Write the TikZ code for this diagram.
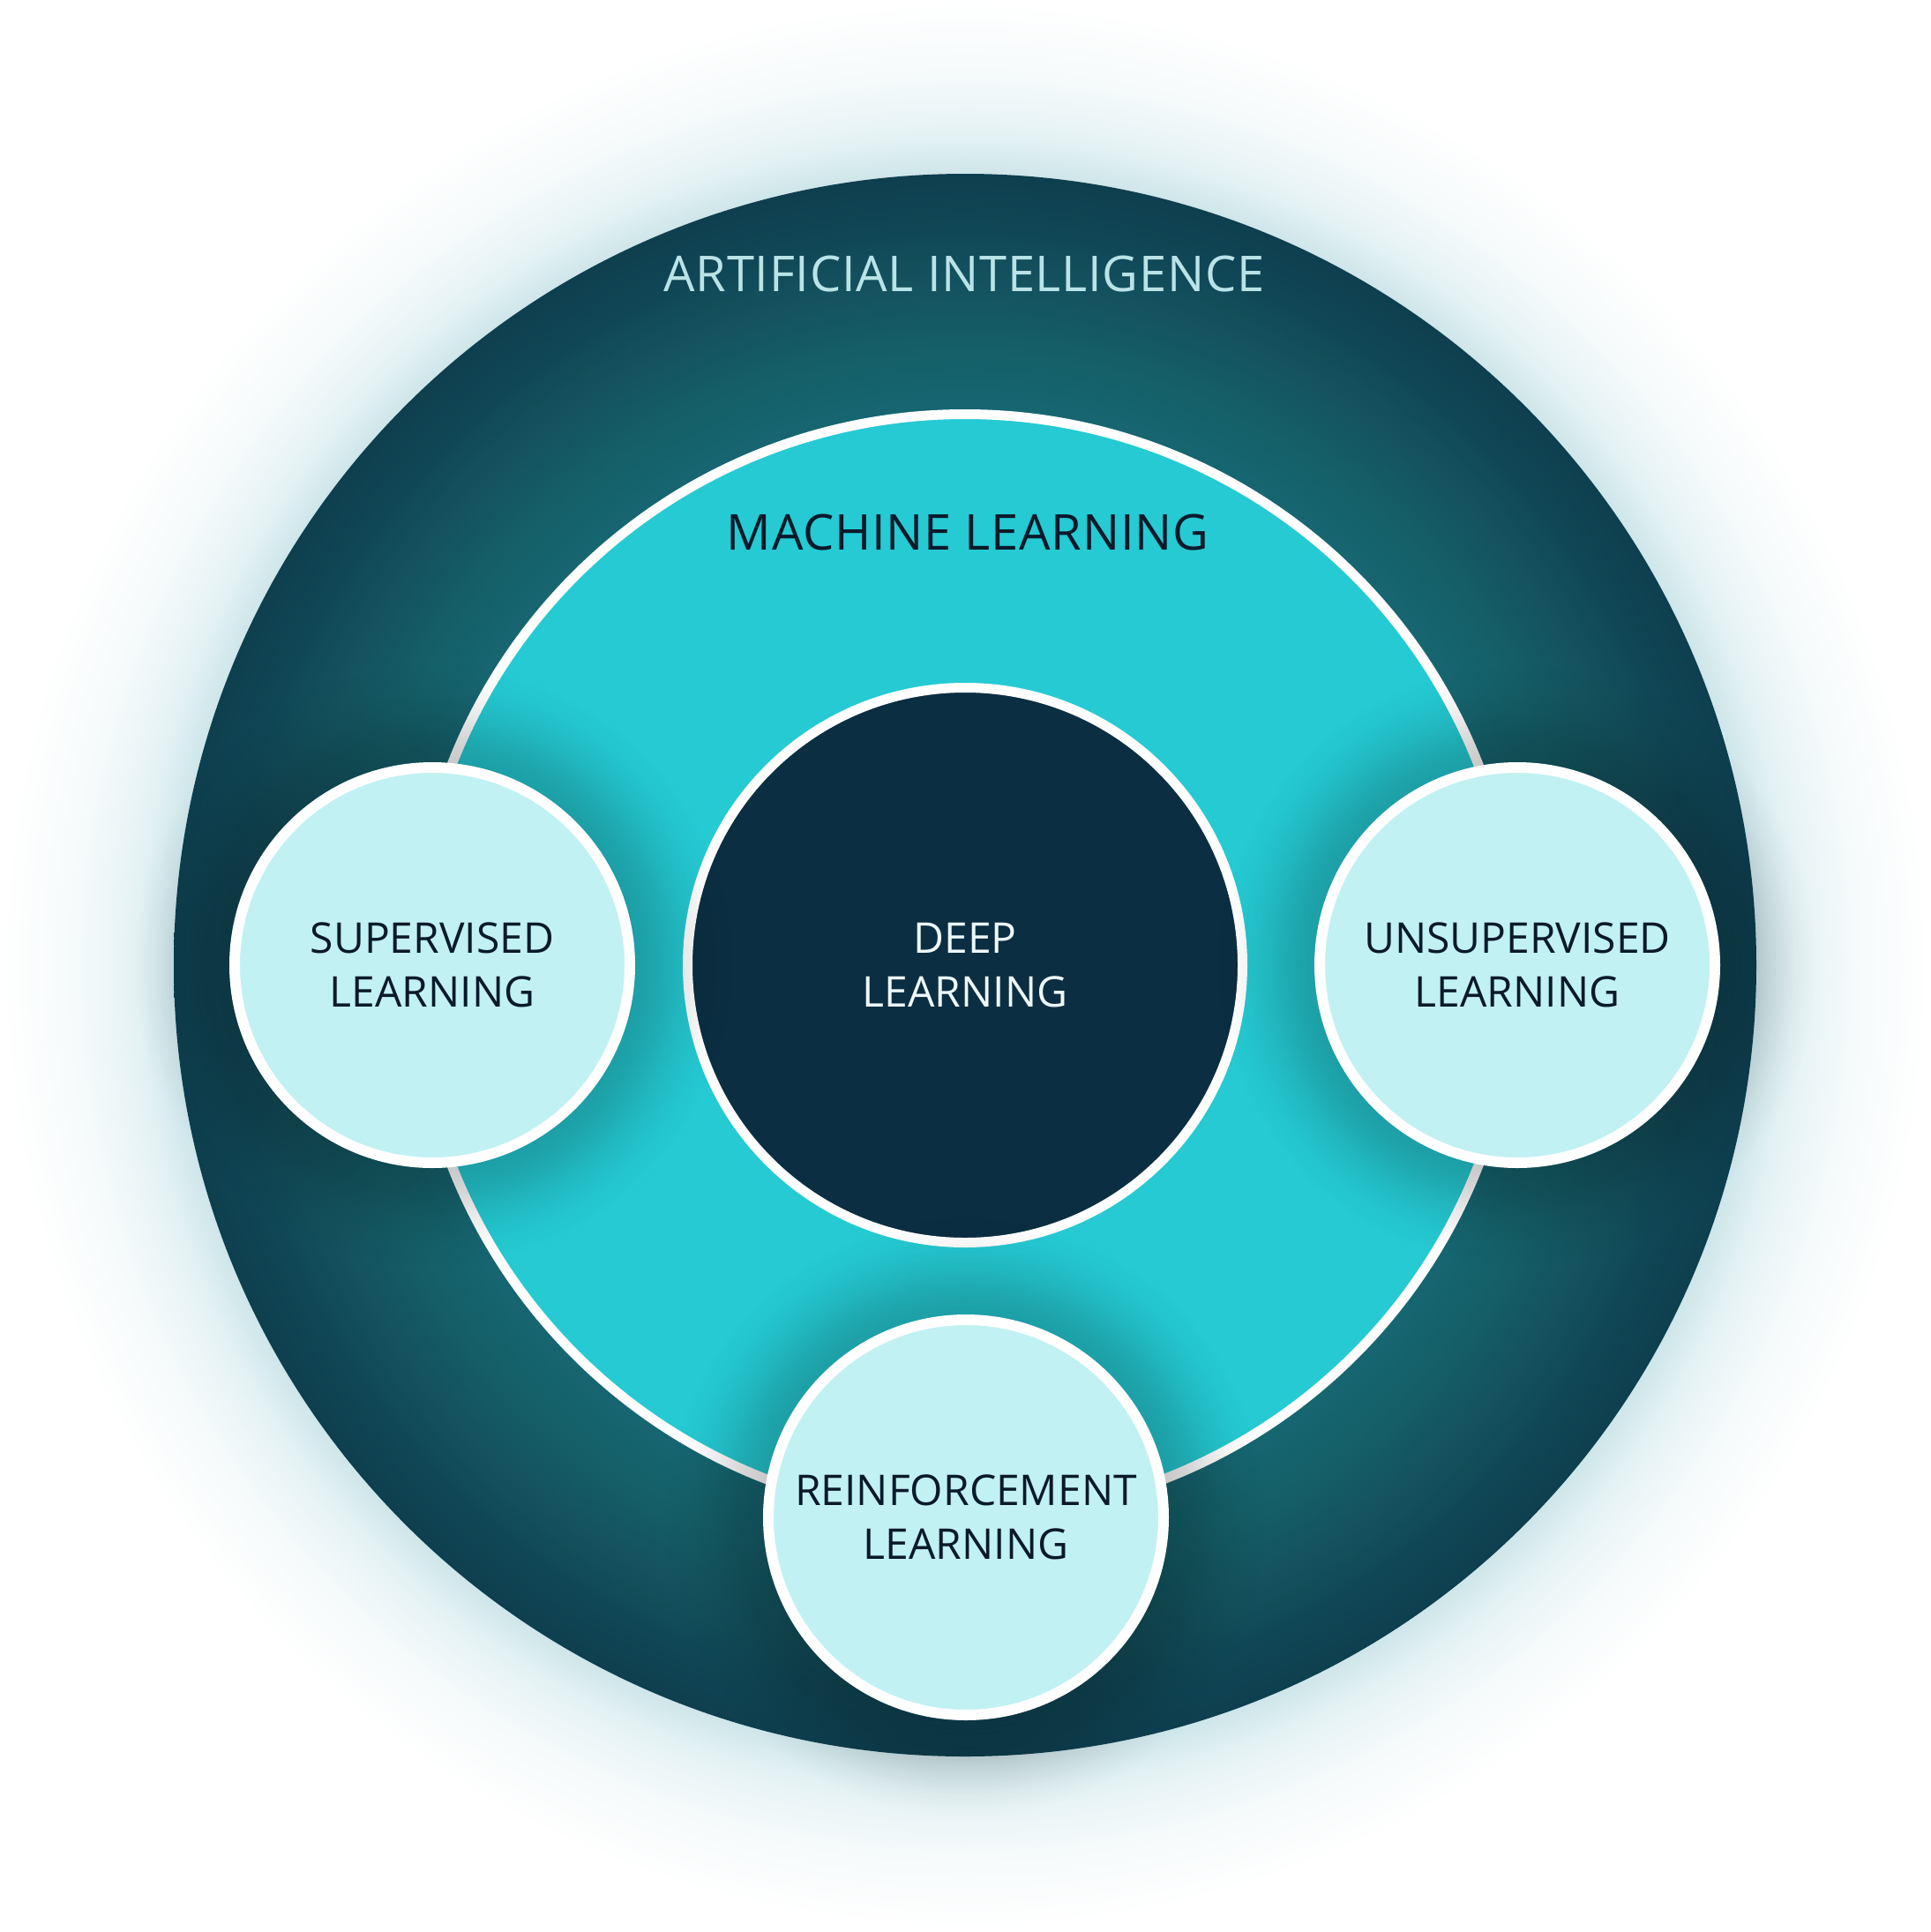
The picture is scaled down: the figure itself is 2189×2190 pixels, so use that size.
\documentclass[tikz,border=0pt]{standalone}
\usepackage{fontspec}
\setmainfont{Open Sans}
\usetikzlibrary{fadings}
\definecolor{mlfill}{RGB}{37,202,211}
\definecolor{dlfill}{RGB}{12,46,66}
\definecolor{smallfill}{RGB}{193,241,243}
\definecolor{darktext}{RGB}{10,26,42}
\definecolor{aitextcol}{RGB}{185,227,230}
\definecolor{dltextcol}{RGB}{236,248,249}
\pgfdeclareradialshading{glowshade}{\pgfpoint{0bp}{0bp}}{rgb(0bp)=(0.804,0.898,0.914); rgb(20.45bp)=(0.804,0.898,0.914); rgb(21.5bp)=(0.894,0.949,0.957); rgb(23bp)=(0.961,0.98,0.984); rgb(25bp)=(1,1,1); rgb(50bp)=(1,1,1)}
\pgfdeclareradialshading{aishade}{\pgfpoint{0bp}{0bp}}{rgb(0bp)=(0.086,0.4,0.443); rgb(17.5bp)=(0.086,0.4,0.443); rgb(19.3bp)=(0.082,0.376,0.412); rgb(22.1bp)=(0.075,0.31,0.361); rgb(23.2bp)=(0.063,0.278,0.337); rgb(25bp)=(0.055,0.247,0.31); rgb(50bp)=(0.055,0.247,0.31)}
\pgfdeclareradialshading{shadowshade}{\pgfpoint{0bp}{0bp}}{gray(0bp)=(0.21); gray(17bp)=(0.21); gray(19bp)=(0.16); gray(21bp)=(0.085); gray(23bp)=(0.03); gray(25bp)=(0); gray(50bp)=(0)}
\pgfdeclarefading{shadowfade}{\pgfuseshading{shadowshade}}
\tikzset{
  bigfont/.style={font=\fontsize{56}{67}\selectfont\addfontfeature{LetterSpace=1.3}},
  smallfont/.style={font=\fontsize{48}{61}\selectfont},
  ring/.style={circle, inner sep=0pt, outer sep=0pt},
  smallcircle/.style={ring, minimum size=448pt, fill=smallfill, draw=white, line width=12pt, smallfont, text=darktext, align=center},
  softshadow/.style={fill=black, path fading=shadowfade},
}
\begin{document}
\begin{tikzpicture}[x=1pt,y=-1pt]
\useasboundingbox (0,0) rectangle (2189,2190);
\fill[white] (0,0) rectangle (2189,2190);
% outer glow
\shade[shading=glowshade] (1094,1094) circle (1094);
% artificial intelligence circle
\node[ring, minimum size=1794pt, shade, shading=aishade] (ai) at (1094,1094) {};
\node[bigfont, text=aitextcol, anchor=base] (ailabel) at (1093,330) {ARTIFICIAL INTELLIGENCE};
% machine learning circle
\node[ring, minimum size=1249pt, fill=mlfill, draw=white, line width=11pt] (ml) at (1094,1094) {};
\node[bigfont, text=darktext, anchor=base] (mllabel) at (1097,623) {MACHINE LEARNING};
% deep learning circle
\node[ring, minimum size=629pt, fill=dlfill, draw=white, line width=11pt, smallfont, text=dltextcol, align=center] (dl) at (1094,1094) {DEEP\\LEARNING};
% shadows of the small circles
\coordinate (csup) at (490,1094);
\coordinate (cuns) at (1720,1094);
\coordinate (crei) at (1095,1720);
\foreach \c in {csup,cuns,crei}{
  \fill[softshadow] (\c) circle (340);
}
% small circles
\node[smallcircle] (sup) at (csup) {SUPERVISED\\LEARNING};
\node[smallcircle] (uns) at (cuns) {UNSUPERVISED\\LEARNING};
\node[smallcircle] (rei) at (crei) {REINFORCEMENT\\LEARNING};
\end{tikzpicture}
\end{document}
